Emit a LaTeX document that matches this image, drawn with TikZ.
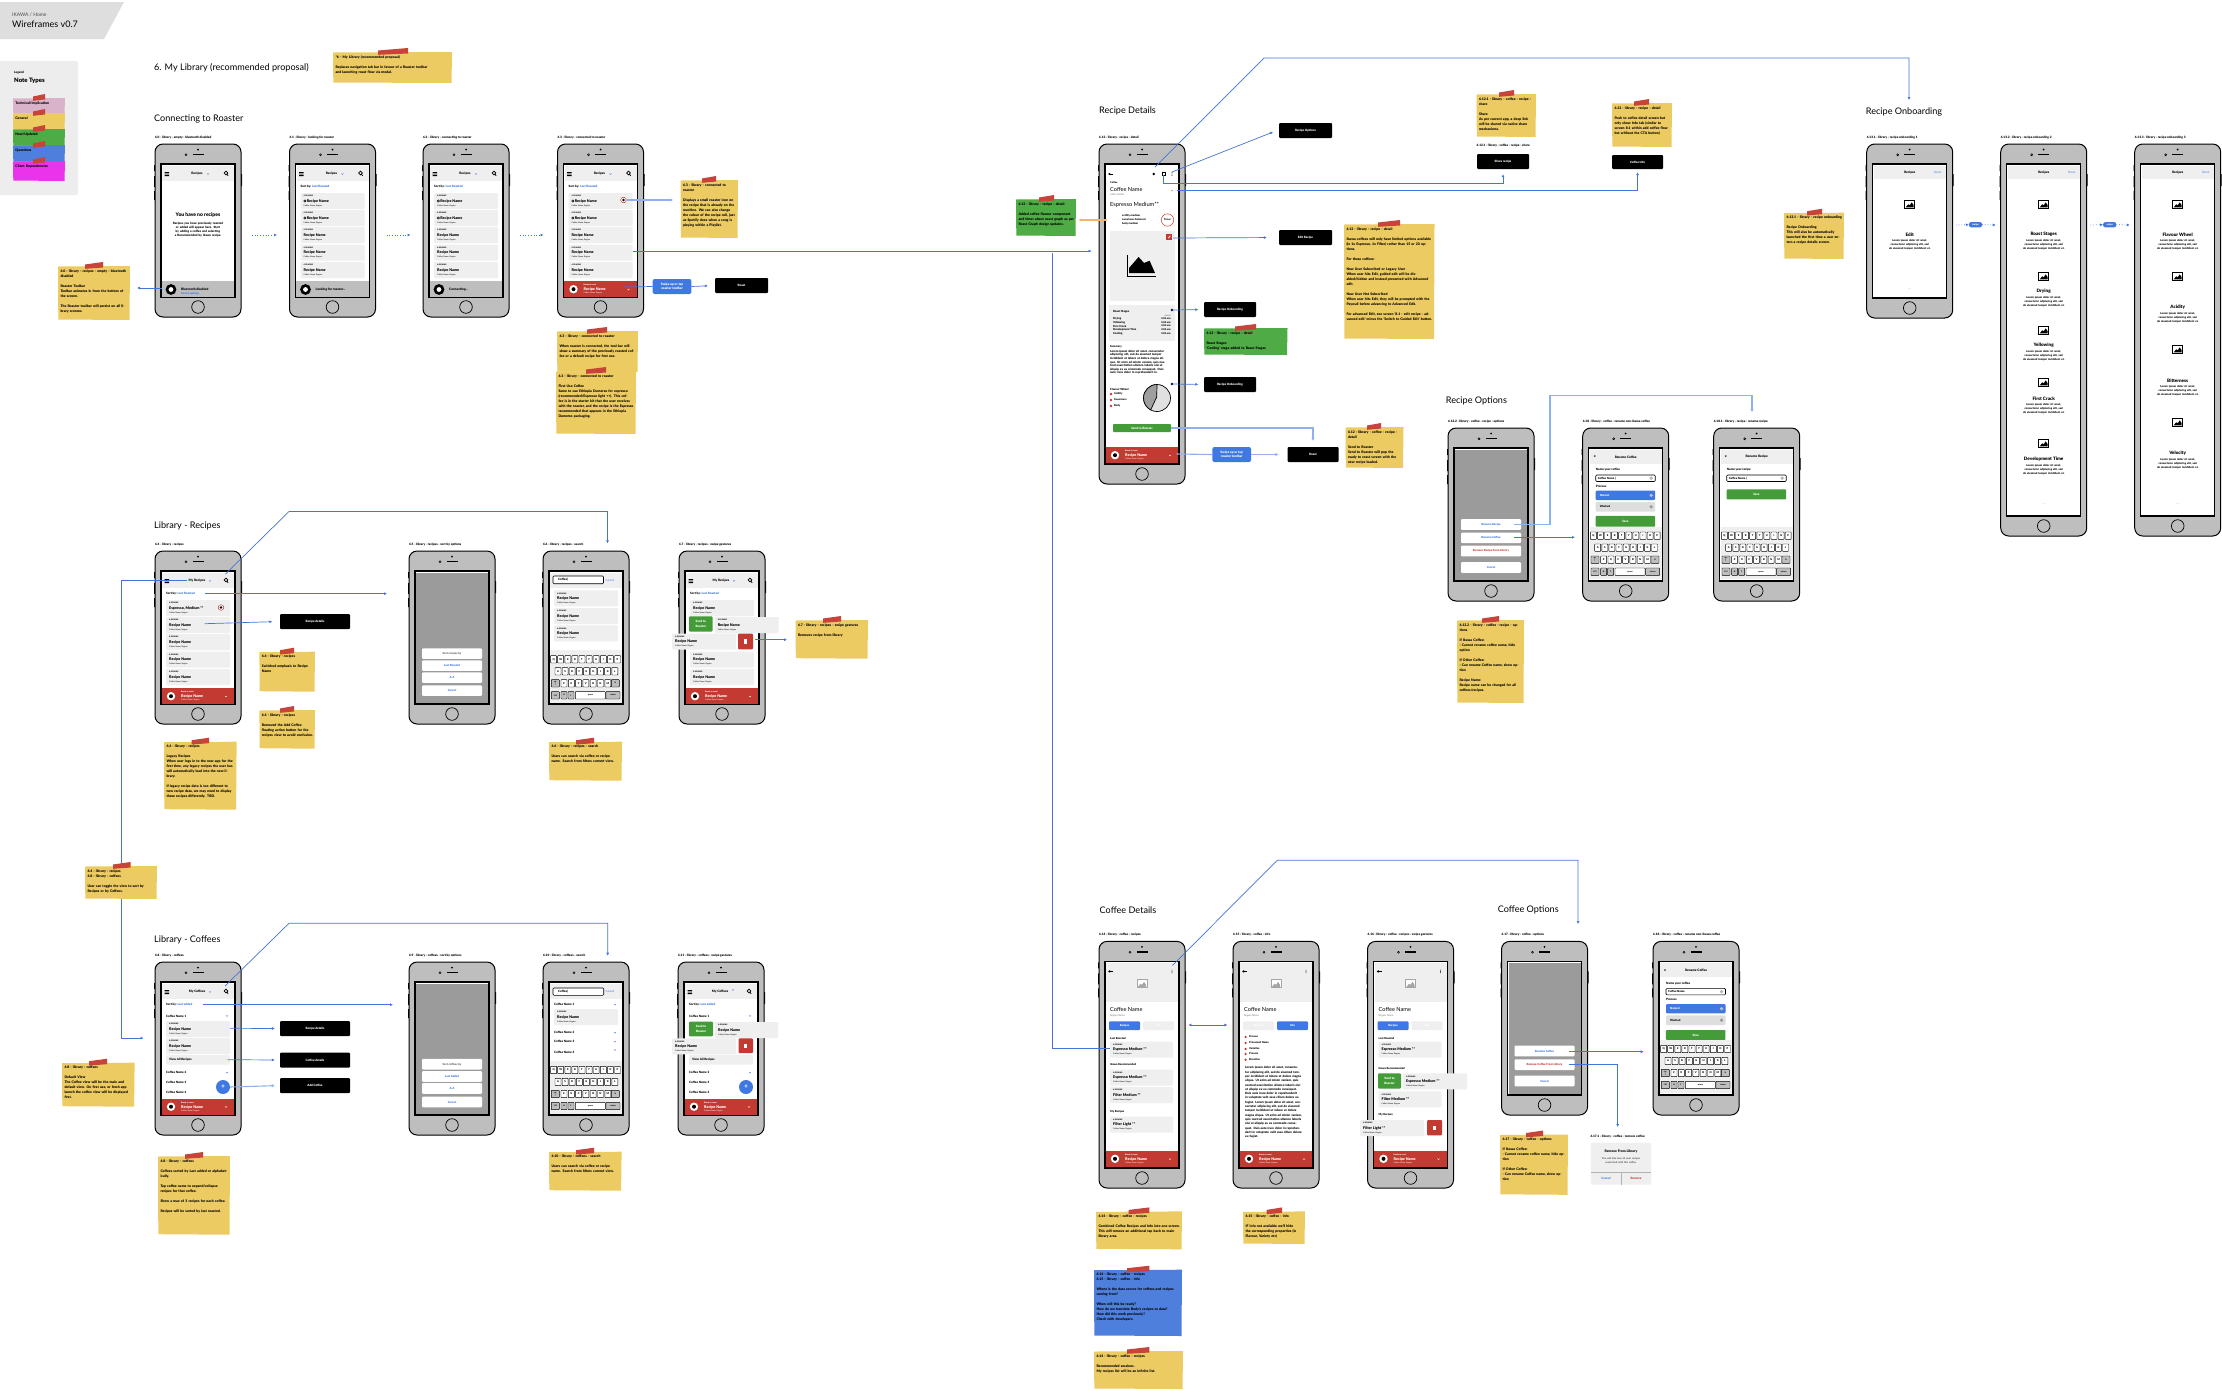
\documentclass[tikz,border=0pt]{standalone}
\usepackage{fontspec}
\setmainfont{Lato}[BoldFont={Lato Black}]
\usetikzlibrary{arrows.meta}
\definecolor{notey}{HTML}{EDCB63}
\definecolor{noteg}{HTML}{4FAB45}
\definecolor{noteb}{HTML}{4F7FDC}
\definecolor{notep}{HTML}{D9B3C9}
\definecolor{notem}{HTML}{EC33EC}
\definecolor{tapered}{HTML}{C8433A}
\definecolor{flowblue}{HTML}{4575D6}
\definecolor{flowpale}{HTML}{8FB0EC}
\definecolor{linkblue}{HTML}{3F78E0}
\definecolor{barred}{HTML}{C23A31}
\definecolor{btngreen}{HTML}{439C38}
\definecolor{cardbg}{HTML}{EFEFEF}
\definecolor{bodygray}{HTML}{BEBEBE}
\definecolor{sheetgray}{HTML}{9B9B9B}
\definecolor{flowor}{HTML}{F2B56B}

\newcounter{lblc}
\newcommand{\lbl}[3][]{\stepcounter{lblc}\node[lab,#1] (lbl\thelblc) at (#2) {#3};}
\newcommand{\chev}[3][linkblue]{\draw[#1,line width=.35] (#2-1,#3-.6) -- (#2,#3+.5) -- (#2+1,#3-.6);}

% phone shell: name, height, caption
\newcommand{\phonebody}[3]{%
  \fill[black] (-1,21) rectangle (0,27) (-1,32) rectangle (0,43) (-1,47) rectangle (0,56) (86,30) rectangle (87,42);
  \draw[phbody] (0,0) rectangle (86,#2);
  \fill[black] (37.5,9.7) rectangle (48.5,11.2);
  \fill[black] (43,5.5) circle (1);
  \draw[line width=.6,fill=white] (31,10.8) circle (1);
  \draw[phscreen] (6,20) rectangle (80,#2-20);
  \draw[line width=.7,fill=bodygray] (43,#2-10) circle (6.3);
  \coordinate (#1-w) at (0,91);
  \coordinate (#1-e) at (86,91);
  \lbl[capt]{0,-6.5}{#3}
}
\newcommand{\navbar}[1]{%
  \fill[cardbg] (7,22) rectangle (79,37);
  \fill[black] (9.5,28) rectangle (14,28.8) (9.5,29.6) rectangle (14,30.4) (9.5,31.2) rectangle (14,32);
  \lbl[bs=3.2,anchor=center]{42,30}{#1}
  \draw[line width=.7] (71,29) circle (1.8) (72.2,30.4) -- (73.2,32);
}
\newcommand{\sortrow}[2]{\lbl[bs=3]{11,#1}{Sort by: \textcolor{linkblue}{#2}}}
\newcommand{\rowcard}[4]{%
  \fill[cardbg,rounded corners=1] (#1,#2) rectangle ++(#3,16);
  \lbl[bs=1.9]{#1+3,#2+3}{4:30 MINS}
  \lbl[bs=3.7]{#1+3,#2+8}{#4}
  \lbl[fs=2]{#1+3,#2+12.6}{Coffee Name, Region}
}
\newcommand{\markrow}[1]{%
  \rowcard{11}{#1}{64}{\hspace{3.2pt}Recipe Name}
  \draw[line width=.45] (15.4,#1+8) circle (1.1);
}
\newcommand{\redbar}[1]{%
  \fill[barred] (6.6,#1) rectangle (79.4,#1+16.4);
  \fill[white] (16,#1+8.2) circle (4.2);
  \fill[black] (16,#1+8.2) circle (2);
  \lbl[bs=1.9,text=white]{26,#1+4.2}{Ready to roast}
  \lbl[bs=3.7,text=white]{26,#1+8.4}{Recipe Name}
  \lbl[fs=2,text=white]{26,#1+12.4}{Coffee Name, Region}
  \chev[white]{71}{#1+8.5}
}
\newcommand{\graybar}[2]{%
  \fill[bodygray] (6.6,137) rectangle (79.4,153);
  \fill[black] (16,145.5) circle (5.4);
  \fill[white] (16,145.5) circle (2.4);
  \lbl[bs=3.2]{26,145.5}{#1}
  #2
}
\newcommand{\keyboard}[1]{%
  \fill[cardbg] (7,#1) rectangle (79,#1+52.6);
  \foreach \kk [count=\i] in {Q,W,E,R,T,Y,U,I,O,P} {\lbl[keycap]{10.6+7.1*\i-7.1,#1+9}{\kk}}
  \foreach \kk [count=\i] in {A,S,D,F,G,H,J,K,L} {\lbl[keycap]{15+7.1*\i-7.1,#1+21}{\kk}}
  \foreach \kk [count=\i] in {Z,X,C,V,B,N,M} {\lbl[keycap]{21+7.3*\i-7.3,#1+33}{\kk}}
  \lbl[keycap,fill=bodygray,minimum width=8]{12.3,#1+33}{$\uparrow$}
  \lbl[keycap,fill=bodygray,minimum width=8]{72.3,#1+33}{x}
  \lbl[keycap,fill=bodygray,minimum width=8,bs=1.9]{12.3,#1+45}{123}
  \lbl[keycap,fill=bodygray]{21,#1+45}{o}
  \lbl[keycap,fill=bodygray]{28,#1+45}{i}
  \lbl[keycap,minimum width=30,bs=2]{47.3,#1+45}{space}
  \lbl[keycap,fill=bodygray,minimum width=14,bs=2]{70,#1+45}{return}
}
\newcommand{\sheetbg}[1]{\fill[sheetgray] (7,22) rectangle (79,#1-21);}
\newcommand{\sheetbtn}[4][linkblue]{\node[sheetbtn,text=#1] (#2) at (43,#3) {#4};}
\newcommand{\closeform}[1]{%
  \fill[cardbg] (7,22) rectangle (79,36);
  \lbl[bs=3.4,anchor=center]{12,29}{x}
  \lbl[bs=3.2,anchor=center]{43,29}{#1}
}
\newcommand{\inputbox}[3]{%
  \lbl[bs=3]{13,42}{#1}
  \draw[line width=.6,fill=white,rounded corners=1] (13,47) rectangle (72.5,53.5);
  \lbl[bs=2.8]{15,50.2}{#2}
  \fill[black!30] (68.5,50.2) circle (1.8);
  #3
}
\newcommand{\processrows}{%
  \lbl[bs=3]{13,58}{Process}
  \fill[linkblue,rounded corners=1] (13,62.7) rectangle (72.5,72);
  \lbl[bs=2.8,text=white]{17,67.3}{Natural}
  \fill[black!25] (68.5,67.3) circle (1.8);
  \fill[black!13,rounded corners=1] (13,74) rectangle (72.5,83.7);
  \lbl[bs=2.8]{17,78.8}{Washed}
  \fill[black!40] (68.5,78.8) circle (1.8);
}
\newcommand{\imgicon}[3]{%
  \draw[#3,line width=.7,fill=white] (#1-5,#2-4) rectangle (#1+5,#2+4);
  \fill[#3] (#1-4,#2+3) -- (#1-1.5,#2) -- (#1,#2+1) -- (#1+2,#2-2) -- (#1+4,#2+1) -- (#1+4,#2+3) -- cycle;
}
\newcommand{\onbnav}{%
  \fill[cardbg] (7,21.5) rectangle (79,35.3);
  \lbl[bs=3.2,anchor=center]{43,28.7}{Recipes}
  \lbl[fs=3,text=linkblue,anchor=center]{71,28.7}{Done}
}
\newcommand{\onbstep}[4]{%
  \imgicon{#1}{#2}{black}
  \lbl[bs=4.6,anchor=center]{#1,#3}{#4}
  \lbl[anchor=north,align=center,text width=64,font=\fontsize{2.7}{4}\selectfont\bfseries]{#1,#3+5}{Lorem ipsum dolor sit amet,\\consectetur adipiscing elit, sed\\do eiusmod tempor incididunt ut.}
}
\newcommand{\coffeehead}[2]{%
  \fill[cardbg] (7,22) rectangle (79.4,60.6);
  \draw[line width=.8,-{Latex[length=2.2pt,width=3pt]}] (14,30) -- (9,30);
  \fill[black] (73,28.6) circle (.45) (73,30) circle (.45) (73,31.4) circle (.45);
  \imgicon{43}{42.4}{black!35}
  \lbl[fs=5.6]{11,68}{Coffee Name}
  \lbl[fs=2.5,text=black!55]{11,74.6}{Region Name}
  \fill[#1,rounded corners=1] (10,80) rectangle (41,88.6);
  \lbl[bs=2.7,anchor=center,text=\ifx#1cardbg black\else white\fi]{25.5,84.3}{Recipes}
  \fill[#2,rounded corners=1] (44,80) rectangle (75,88.6);
  \lbl[bs=2.7,anchor=center,text=\ifx#2cardbg black\else white\fi]{59.5,84.3}{Info}
}
\newcommand{\trashbtn}[4]{%
  \fill[barred,rounded corners=1] (#1,#2) rectangle (#3,#4);
  \fill[white] (#1/2+#3/2-1.5,#2/2+#4/2-2) rectangle (#1/2+#3/2+1.5,#2/2+#4/2+2.4);
}
\newcommand{\stickynote}[9][notey]{%
  \fill[#1] (#3,#4+.5) -- (#5,#4) -- (#5-.5,#6) -- (#3+.3,#6-.5) -- cycle;
  \fill[tapered] (#7,#4-1.5) -- (#8,#4-4) -- (#8,#4+1.5) -- (#7,#4+2.8) -- cycle;
  \pgfmathsetmacro\notew{#5-#3-4.5}
  \node[notetxt,text width=\notew pt] (#2) at (#3+2.3,#4+3.4) {#9};
}
\def\loremtxt{Lorem ipsum dolor sit amet, consectetur adipiscing elit, sed do eiusmod tempor incididunt ut labore et dolore magna aliqua. Ut enim ad minim veniam, quis nostrud exercitation ullamco laboris nisi ut aliquip ex ea commodo consequat. Duis aute irure dolor in reprehenderit in voluptate velit esse cillum dolore eu fugiat.}

\begin{document}
\begin{tikzpicture}[x=1pt,y=-1pt,
   fs/.style={font=\fontsize{#1}{#1}\selectfont},
   bs/.style={font=\fontsize{#1}{#1}\selectfont\bfseries},
   lab/.style={anchor=west,inner sep=0pt,bs=3},
   capt/.style={bs=3.1},
   ttl/.style={anchor=west,inner sep=0pt,fs=9.1},
   phbody/.style={draw=black,line width=1,fill=bodygray,rounded corners=8},
   phscreen/.style={draw=black,line width=1.5,fill=white},
   keycap/.style={anchor=center,draw=black,fill=white,line width=.45,rounded corners=.6,minimum width=6,minimum height=7.4,bs=2.6},
   sheetbtn/.style={fill=white,rounded corners=1,minimum width=60,minimum height=10.6,inner sep=0pt,bs=2.8},
   blackbtn/.style={fill=black,text=white,rounded corners=1,minimum width=53,minimum height=15,inner sep=0pt,bs=3},
   pillbtn/.style={fill=linkblue,text=white,rounded corners=2,minimum width=38.6,minimum height=15,inner sep=0pt,align=center,font=\fontsize{3.2}{4.4}\selectfont\bfseries},
   greenbtn/.style={fill=btngreen,text=white,rounded corners=.8,inner sep=0pt,bs=3},
   notetxt/.style={anchor=north west,inner sep=0pt,align=left,font=\fontsize{3.45}{5}\selectfont\bfseries},
   flow/.style={draw=flowblue,line width=.7,-{Latex[length=3pt,width=3pt]}},
   flowthick/.style={draw=flowpale,line width=1.1,-{Latex[length=3pt,width=3.4pt]}},
   flowdot/.style={flow,dotted}]
  \useasboundingbox (0,0) rectangle (2222,1390);
  \fill[white] (0,0) rectangle (2222,1390);

  % ---- header and legend ----
  \fill[black!13] (0,2) -- (124,2) -- (104,39) -- (0,39) -- cycle;
  \lbl[fs=5,text=black!70]{12,15}{IKAWA / Home}
  \lbl[fs=9]{12,24}{Wireframes v0.7}
  \fill[black!7,rounded corners=2] (-3,61) rectangle (78,195);
  \lbl[bs=3]{14,73}{Legend}
  \lbl[bs=6]{14,80.5}{Note Types}
  \stickynote[notep]{lgA}{13}{98}{65}{114}{33}{45}{Technical/Implication}
  \stickynote[notey]{lgB}{13}{113}{65}{130}{33}{45}{General}
  \stickynote[noteg]{lgC}{13}{129}{65}{146}{33}{45}{New/Updated}
  \stickynote[noteb]{lgD}{13}{145}{65}{162}{33}{45}{Questions}
  \stickynote[notem]{lgE}{13}{161}{65}{181}{33}{45}{Client Dependencies}

  \node[ttl] (ttlA) at (154,68) {6. My Library (recommended proposal)};
  \node[ttl] (ttlB) at (154,119) {Connecting to Roaster};
  \node[ttl] (ttlC) at (154,525.7) {Library - Recipes};
  \node[ttl] (ttlD) at (154,940) {Library - Coffees};
  \node[ttl] (ttlE) at (1099,111) {Recipe Details};
  \node[ttl] (ttlF) at (1445.7,400.7) {Recipe Options};
  \node[ttl] (ttlG) at (1865.7,111.7) {Recipe Onboarding};
  \node[ttl] (ttlH) at (1099.5,909.7) {Coffee Details};
  \node[ttl] (ttlI) at (1497.6,909.7) {Coffee Options};

  % ---- connecting to roaster ----
  \begin{scope}[shift={(155,144)}]
    \phonebody{p60}{173}{6.0 - library - empty - bluetooth disabled}
    \navbar{Recipes}
    \chev{53}{30}
    \lbl[bs=5,anchor=center]{43,71}{You have no recipes}
    \lbl[anchor=north,align=center,text width=58,font=\fontsize{3}{3.9}\selectfont\bfseries]{43,78}{Recipes you have previously roasted or added will appear here. Start by adding a coffee and selecting a Recommended by Ikawa recipe.}
    \graybar{Bluetooth disabled}{\lbl[bs=2.6,text=linkblue]{26,149.5}{Device settings}}
    \coordinate (p60-bar) at (7,144);
  \end{scope}
  \begin{scope}[shift={(289.5,144)}]
    \phonebody{p61}{173}{6.1 - library - looking for roaster}
    \navbar{Recipes}
    \chev{53}{30}
    \sortrow{43}{Last Roasted}
    \markrow{49}
    \markrow{66}
    \foreach \ry in {83,100.5,118} {\rowcard{11}{\ry}{64}{Recipe Name}}
    \graybar{Looking for roaster...}{}
  \end{scope}
  \begin{scope}[shift={(423,144)}]
    \phonebody{p62}{173}{6.2 - library - connecting to roaster}
    \navbar{Recipes}
    \chev{53}{30}
    \sortrow{43}{Last Roasted}
    \markrow{49}
    \markrow{66}
    \foreach \ry in {83,100.5,118} {\rowcard{11}{\ry}{64}{Recipe Name}}
    \graybar{Connecting...}{}
  \end{scope}
  \begin{scope}[shift={(557.5,144)}]
    \phonebody{p63}{173}{6.3 - library - connected to roaster}
    \navbar{Recipes}
    \chev{53}{30}
    \sortrow{43}{Last Roasted}
    \markrow{49}
    \markrow{66}
    \foreach \ry in {83,100.5,118} {\rowcard{11}{\ry}{64}{Recipe Name}}
    \redbar{137}
    \draw[barred,line width=.5,fill=white] (66,56) circle (2.8);
    \fill[black] (66,56) circle (1.4);
    \coordinate (p63-icon) at (69,56);
    \coordinate (p63-row) at (75,107);
    \coordinate (p63-bar) at (66,143);
  \end{scope}
  \node[pillbtn] (p63-pill) at (672,286.5) {Swipe up or tap\\roaster toolbar};
  \node[blackbtn] (p63-roast) at (741.5,285.5) {Roast};

  % ---- recipe details ----
  \begin{scope}[shift={(1099,144)}]
    \phonebody{pd}{340}{6.12 - library - recipe - detail}
    \draw[line width=.8,-{Latex[length=2.2pt,width=3pt]}] (14,30) -- (9,30);
    \fill[black] (54.7,30) circle (1.4);
    \draw[line width=.6] (63.2,28.2) rectangle (66.4,31.6);
    \fill[black] (73,28.6) circle (.45) (73,30) circle (.45) (73,31.4) circle (.45);
    \lbl[bs=2.4]{11,39}{Coffee}
    \lbl[fs=5.6]{11,45}{Coffee Name}
    \lbl[fs=2.4,text=black!55]{11,51}{coffee details}
    \chev[black!50]{73}{46.7}
    \lbl[fs=5.7]{11,61}{Espresso Medium**}
    \lbl[bs=2.6]{23,72}{acidity medium}
    \lbl[bs=2.6]{23,76}{sweetness balanced}
    \lbl[bs=2.6]{23,80}{body medium}
    \draw[barred,line width=.5,fill=white] (68.5,76) circle (6.2);
    \lbl[bs=2.5,anchor=center]{68.5,76}{Timer}
    \fill[cardbg] (11,87) rectangle (76,157);
    \draw[line width=1] (28.5,111) -- (28.5,132) -- (57,132);
    \fill[black] (30,129) -- (30,124) -- (39.6,113) -- (45,119) -- (50.6,116.7) -- (56,129) -- cycle;
    \fill[barred] (67,90) rectangle (73,96);
    \fill[white] (69,94) -- (71,91.5) -- (71.5,92) -- (69.5,94.5) -- cycle;
    \fill[cardbg] (10,161) rectangle (76,197);
    \lbl[bs=2.8]{14,168}{Roast Stages}
    \fill[black] (73,166) circle (1.3);
    \lbl[fs=2.2,anchor=east,text=black!60]{72,171.5}{details}
    \foreach \ty/\tn in {175/Drying,178.5/Yellowing,182/First Crack,186/Development Time,190/Cooling} {\lbl[bs=2.7]{14,\ty}{\tn}
      \lbl[bs=2.4,anchor=east]{72,\ty}{0:00 min}}
    \lbl[bs=2.7]{11,203}{Summary}
    \lbl[anchor=north west,align=left,text width=57,font=\fontsize{2.9}{3.6}\selectfont\bfseries]{11,206}{Lorem ipsum dolor sit amet, consectetur adipiscing elit, sed do eiusmod tempor incididunt ut labore et dolore magna aliqua. Ut enim ad minim veniam, quis nostrud exercitation ullamco laboris nisi ut aliquip ex ea commodo consequat. Duis aute irure dolor in reprehenderit in.}
    \lbl[bs=2.8]{11,245}{Flavour Wheel}
    \foreach \ty/\tn in {250/Acidity,256/Sweetness,262/Body} {\fill[barred] (12,\ty) circle (1.3);
      \lbl[bs=2.6]{15,\ty}{\tn}}
    \draw[line width=.7,fill=black!12] (58,254) circle (13.5);
    \draw[line width=.7,fill=black!38] (57.7,253) -- (58,240.5) arc[start angle=270,end angle=118,radius=13.5] -- cycle;
    \node[greenbtn,minimum width=58,minimum height=8] (pd-send) at (43,284) {Send to Roaster};
    \redbar{303}
    \coordinate (pd-search) at (56,23);
    \coordinate (pd-opts) at (73,28);
    \coordinate (pd-share) at (64.5,31);
    \coordinate (pd-chev) at (77.5,46.7);
    \coordinate (pd-edit) at (74,94);
    \coordinate (pd-st) at (73,166);
    \coordinate (pd-fl) at (73,240);
    \fill[black] (73,240) circle (1.3);
    \coordinate (pd-bar) at (77.5,310);
    \coordinate (pd-flav) at (8,76);
    \coordinate (pd-in) at (-7.4,107);
  \end{scope}
  \node[blackbtn] (bOpts) at (1305.5,130.5) {Recipe Options};
  \node[blackbtn] (bEdit) at (1305.5,237.5) {Edit Recipe};
  \node[blackbtn,minimum width=52] (bOnbA) at (1230,309.5) {Recipe Onboarding};
  \node[blackbtn,minimum width=52] (bOnbB) at (1230,384.5) {Recipe Onboarding};
  \node[blackbtn,minimum width=51] (bRoast) at (1313,454.5) {Roast};
  \node[blackbtn,minimum width=52] (bShare) at (1503,161.5) {Share recipe};
  \node[blackbtn,minimum width=51,minimum height=14] (bInfo) at (1637.5,162) {Coffee Info};
  \node[pillbtn] (pd-pill) at (1231.7,454.5) {Swipe up or tap\\roaster toolbar};
  \lbl[capt]{1476.5,146}{6.12.1 - library - coffee - recipe - share}

  % ---- recipe options ----
  \begin{scope}[shift={(1448,428)}]
    \phonebody{po}{173}{6.12.2 - library - coffee - recipe - options}
    \sheetbg{173}
    \sheetbtn{po-rec}{96.5}{Rename Recipe}
    \sheetbtn{po-cof}{109.9}{Rename Coffee}
    \sheetbtn[barred]{po-rem}{123}{Remove Recipe From Library}
    \sheetbtn{po-can}{139.5}{Cancel}
    \coordinate (po-a) at (66,96.3);
    \coordinate (po-b) at (66,109.3);
  \end{scope}
  \begin{scope}[shift={(1582.7,428)}]
    \phonebody{pr}{173}{6.18 - library - coffee - rename non-ikawa coffee}
    \closeform{Rename Coffee}
    \inputbox{Name your coffee}{Coffee Name |}{}
    \processrows
    \node[greenbtn,minimum width=59.5,minimum height=10.7] (pr-save) at (42.7,93.3) {Save};
    \keyboard{98.7}
    \coordinate (pr-in) at (-7.7,109.3);
  \end{scope}
  \begin{scope}[shift={(1713.7,428)}]
    \phonebody{prr}{173}{6.18.1 - library - recipe - rename recipe}
    \closeform{Rename Recipe}
    \inputbox{Name your recipe}{Coffee Name |}{}
    \node[greenbtn,minimum width=59.5,minimum height=10] (prr-save) at (42.7,66.3) {Save};
    \keyboard{98.7}
    \coordinate (prr-in) at (38.3,-16);
  \end{scope}

  % ---- recipe onboarding ----
  \begin{scope}[shift={(1866.7,144)}]
    \phonebody{ob1}{174}{6.13.1 - library - recipe onboarding 1}
    \onbnav
    \onbstep{43}{60.3}{90.3}{Edit}
    \lbl[bs=2.4,anchor=center,text=linkblue]{43,145}{. . .}
    \coordinate (ob1-s) at (89.3,81);
  \end{scope}
  \begin{scope}[shift={(2000.7,144)}]
    \phonebody{ob2}{392}{6.13.2 - library - recipe onboarding 2}
    \onbnav
    \foreach \iy/\ty/\tn in {60.3/90.3/Roast Stages,132.3/147.3/Drying,186.3/201.3/Yellowing,238.3/254.3/First Crack,299.3/315.3/Development Time} {\onbstep{43}{\iy}{\ty}{\tn}}
    \lbl[bs=2.4,anchor=center,text=linkblue]{43,360}{. . .}
    \coordinate (ob2-w) at (-5,81);
    \coordinate (ob2-s) at (90,81);
  \end{scope}
  \begin{scope}[shift={(2134.7,144)}]
    \phonebody{ob3}{392}{6.13.3 - library - recipe onboarding 3}
    \onbnav
    \foreach \iy/\ty/\tn in {60.3/90.3/Flavour Wheel,132.3/163.3/Acidity,205.3/236.3/Bitterness,278.3/309.3/Velocity} {\onbstep{43}{\iy}{\ty}{\tn}}
    \lbl[bs=2.4,anchor=center,text=linkblue]{43,360}{. . .}
    \coordinate (ob3-w) at (-5,81);
  \end{scope}
  \node[pillbtn,minimum width=13,minimum height=5.2,font=\fontsize{2.4}{2.4}\selectfont\bfseries] (ob-pillA) at (1975.5,224.7) {swipe};
  \node[pillbtn,minimum width=13,minimum height=5.2,font=\fontsize{2.4}{2.4}\selectfont\bfseries] (ob-pillB) at (2109.7,224.7) {swipe};

  % ---- library recipes ----
  \begin{scope}[shift={(155,551)}]
    \phonebody{p64}{173}{6.4 - library - recipes}
    \navbar{My Recipes}
    \chev{55}{30}
    \sortrow{43}{Last Roasted}
    \rowcard{11}{49}{64}{Espresso, Medium **}
    \foreach \ry in {66,83,100.5,118} {\rowcard{11}{\ry}{64}{Recipe Name}}
    \redbar{137}
    \draw[barred,line width=.5,fill=white] (66,56.5) circle (2.8);
    \fill[black] (66,56.5) circle (1.4);
    \coordinate (p64-search) at (70.5,23);
    \coordinate (p64-menu) at (32,29);
    \coordinate (p64-sort) at (49.6,42.7);
    \coordinate (p64-row) at (49.6,72.7);
  \end{scope}
  \begin{scope}[shift={(409,551)}]
    \phonebody{p65}{173}{6.5 - library - recipes - sort by options}
    \sheetbg{173}
    \sheetbtn[black!60]{p65-a}{102.6}{Sort recipes by}
    \sheetbtn{p65-b}{114.6}{Last Roasted}
    \sheetbtn{p65-c}{126.6}{A-Z}
    \sheetbtn{p65-d}{139.6}{Cancel}
    \coordinate (p65-in) at (-22,42.7);
  \end{scope}
  \begin{scope}[shift={(543,551)}]
    \phonebody{p66}{173}{6.6 - library - recipes - search}
    \fill[cardbg] (7,22) rectangle (79,37);
    \draw[line width=.6,fill=white,rounded corners=1] (10,25) rectangle (60.5,32.7);
    \lbl[bs=3]{15,29}{Coffee|}
    \lbl[fs=2.9,text=linkblue]{62.5,29}{Cancel}
    \foreach \ry in {39.3,57,74.3} {\rowcard{11}{\ry}{64}{Recipe Name}}
    \keyboard{99.3}
    \coordinate (p66-top) at (64.5,-7.7);
  \end{scope}
  \begin{scope}[shift={(679,551)}]
    \phonebody{p67}{173}{6.7 - library - recipes - swipe gestures}
    \navbar{My Recipes}
    \chev{55}{30}
    \sortrow{43}{Last Roasted}
    \rowcard{11}{49}{64}{Recipe Name}
    \rowcard{35.6}{66}{64}{Recipe Name}
    \fill[btngreen,rounded corners=1] (10,65.3) rectangle (33.6,80.6);
    \lbl[anchor=center,align=center,text=white,font=\fontsize{3}{4.4}\selectfont\bfseries]{21.8,73}{Send to\\Roaster}
    \rowcard{-7}{82.6}{64}{Recipe Name}
    \trashbtn{59}{82.6}{74}{98.3}
    \rowcard{11}{100.5}{64}{Recipe Name}
    \rowcard{11}{118}{64}{Recipe Name}
    \redbar{137}
    \coordinate (p67-trash) at (76,88.7);
  \end{scope}
  \node[blackbtn,minimum width=70] (bRecDet) at (315,621.5) {Recipe details};

  % ---- library coffees ----
  \begin{scope}[shift={(155,962)}]
    \phonebody{p68}{173}{6.8 - library - coffees}
    \navbar{My Coffees}
    \chev{55}{30}
    \sortrow{42.7}{Last added}
    \lbl[bs=3]{11,54}{Coffee Name 1}
    \chev{72}{54}
    \rowcard{11}{59}{64}{Recipe Name}
    \rowcard{11}{76}{64}{Recipe Name}
    \fill[cardbg,rounded corners=1] (11,93) rectangle (75,102.7);
    \lbl[bs=3]{14,97.8}{View All Recipes}
    \lbl[bs=3]{11,110.7}{Coffee Name 2}
    \chev{72}{110.7}
    \lbl[bs=3]{11,120.7}{Coffee Name 3}
    \lbl[bs=3]{11,130.7}{Coffee Name 4}
    \fill[linkblue] (68,125) circle (7);
    \lbl[bs=6,text=white,anchor=center]{68,124.6}{+}
    \redbar{136.5}
    \coordinate (p68-search) at (70,24);
    \coordinate (p68-sort) at (48,42.7);
    \coordinate (p68-recipe) at (75,66.3);
    \coordinate (p68-all) at (72.6,97.7);
    \coordinate (p68-add) at (75,125);
    \coordinate (p68-in) at (-11.5,76);
  \end{scope}
  \begin{scope}[shift={(409,962)}]
    \phonebody{p69}{173}{6.9 - library - coffees - sort by options}
    \sheetbg{173}
    \sheetbtn[black!60]{p69-a}{102.2}{Sort coffees by}
    \sheetbtn{p69-b}{114.5}{Last Added}
    \sheetbtn{p69-c}{126.5}{A-Z}
    \sheetbtn{p69-d}{140}{Cancel}
    \coordinate (p69-in) at (-16,42.7);
  \end{scope}
  \begin{scope}[shift={(543,962)}]
    \phonebody{p610}{173}{6.10 - library - coffees - search}
    \fill[cardbg] (7,22) rectangle (79,37);
    \draw[line width=.6,fill=white,rounded corners=1] (10,26) rectangle (60.7,33.3);
    \lbl[bs=3]{15,29.7}{Coffee|}
    \lbl[fs=2.9,text=linkblue]{62.5,29.7}{Cancel}
    \lbl[bs=3]{11,42.7}{Coffee Name 1}
    \chev{72}{42.7}
    \rowcard{11}{47}{64}{Recipe Name}
    \lbl[bs=3]{11,70.7}{Coffee Name 2}
    \chev{72}{70.7}
    \lbl[bs=3]{11,79.7}{Coffee Name 3}
    \chev{72}{79.7}
    \lbl[bs=3]{11,90.3}{Coffee Name 4}
    \chev{72}{88}
    \keyboard{99}
    \coordinate (p610-top) at (64.7,-6.3);
  \end{scope}
  \begin{scope}[shift={(678,962)}]
    \phonebody{p611}{173}{6.11 - library - coffees - swipe gestures}
    \navbar{My Coffees}
    \chev{55}{28}
    \sortrow{42.7}{Last added}
    \lbl[bs=3]{11,54}{Coffee Name 1}
    \chev{72}{54}
    \rowcard{37}{60}{63}{Recipe Name}
    \fill[btngreen,rounded corners=1] (11,59.7) rectangle (35,74.3);
    \lbl[anchor=center,align=center,text=white,font=\fontsize{3}{4.4}\selectfont\bfseries]{23,67}{Send to\\Roaster}
    \rowcard{-6}{76.3}{64}{Recipe Name}
    \trashbtn{60.5}{76.3}{75}{91}
    \fill[cardbg,rounded corners=1] (11,93) rectangle (75,102.7);
    \lbl[bs=3]{14,97.8}{View All Recipes}
    \lbl[bs=3]{11,110.7}{Coffee Name 2}
    \chev{72}{110.7}
    \lbl[bs=3]{11,120.7}{Coffee Name 3}
    \lbl[bs=3]{11,130.7}{Coffee Name 4}
    \fill[linkblue] (68,125) circle (7);
    \lbl[bs=6,text=white,anchor=center]{68,124.6}{+}
    \redbar{136.5}
  \end{scope}
  \node[blackbtn,minimum width=70] (bCofRec) at (315,1028.5) {Recipe details};
  \node[blackbtn,minimum width=70] (bCofDet) at (315,1060) {Coffee details};
  \node[blackbtn,minimum width=70] (bCofAdd) at (315,1085.5) {Add Coffee};

  % ---- coffee details ----
  \begin{scope}[shift={(1099,941.4)}]
    \phonebody{pc}{246.6}{6.14 - library - coffee - recipes}
    \coffeehead{linkblue}{cardbg}
    \lbl[bs=2.7]{11,96.6}{Last Roasted}
    \rowcard{11}{100.3}{63}{Espresso Medium **}
    \lbl[bs=2.7]{11,123}{Ikawa Recommended}
    \rowcard{11}{128.3}{63}{Espresso Medium **}
    \rowcard{11}{145.6}{63}{Filter Medium **}
    \lbl[bs=2.7]{11,170}{My Recipes}
    \rowcard{11}{175.2}{63}{Filter Light **}
    \redbar{209.2}
    \coordinate (pc-dots) at (73.4,24);
    \coordinate (pc-card) at (11,106.9);
    \coordinate (pc-e) at (89.4,83.6);
  \end{scope}
  \begin{scope}[shift={(1233,941.4)}]
    \phonebody{pi}{246.6}{6.15 - library - coffee - info}
    \coffeehead{cardbg}{linkblue}
    \foreach \ty/\tn in {95.6/Flavour,101.6/Processed Name,107.6/Varieties,112.6/Process,118.3/Elevation} {\fill[barred] (12.6,\ty) circle (1.3);
      \lbl[bs=2.6]{16,\ty}{\tn}}
    \lbl[anchor=north west,align=left,text width=57,font=\fontsize{3}{4.3}\selectfont\bfseries]{12,125}{\loremtxt{} \loremtxt}
    \redbar{209.2}
    \coordinate (pi-w) at (-5.6,83.6);
  \end{scope}
  \begin{scope}[shift={(1367.5,941.4)}]
    \phonebody{ps}{246.6}{6.16 - library - coffee - recipes - swipe gestures}
    \coffeehead{linkblue}{cardbg}
    \lbl[bs=2.7]{11,96.6}{Last Roasted}
    \rowcard{11}{100.3}{63}{Espresso Medium **}
    \lbl[bs=2.7]{11,126.6}{Ikawa Recommended}
    \rowcard{35.5}{132}{64}{Espresso Medium **}
    \fill[btngreen,rounded corners=1] (10.5,132) rectangle (33.5,147.2);
    \lbl[anchor=center,align=center,text=white,font=\fontsize{3}{4.4}\selectfont\bfseries]{22,139.6}{Send to\\Roaster}
    \rowcard{11}{150}{63}{Filter Medium **}
    \lbl[bs=2.7]{11,173.6}{My Recipes}
    \rowcard{-7.5}{178.6}{64}{Filter Light **}
    \trashbtn{59.5}{178.6}{74.5}{194}
    \redbar{209.2}
  \end{scope}
  \begin{scope}[shift={(1501.5,941.4)}]
    \phonebody{copt}{173.6}{6.17 - library - coffee - options}
    \sheetbg{173.6}
    \sheetbtn{co-ren}{109.6}{Rename Coffee}
    \sheetbtn[barred]{co-rem}{123.3}{Remove Coffee From Library}
    \sheetbtn{co-can}{139.6}{Cancel}
    \coordinate (co-a) at (67.2,110.3);
    \coordinate (co-b) at (67.2,123.1);
    \coordinate (co-top) at (76.5,-17.4);
  \end{scope}
  \begin{scope}[shift={(1653,941.4)}]
    \phonebody{cr}{173.6}{6.18 - library - coffee - rename non-ikawa coffee}
    \closeform{Rename Coffee}
    \inputbox{Name your coffee}{Coffee Name}{}
    \processrows
    \node[greenbtn,minimum width=59.5,minimum height=10] (cr-save) at (42.7,93.6) {Save};
    \keyboard{98.6}
    \coordinate (cr-in) at (-9.3,110.3);
  \end{scope}
  % ---- remove dialog ----
  \lbl[capt]{1590.4,1137}{6.17.1 - library - coffee - remove coffee}
  \fill[cardbg,rounded corners=1] (1590.8,1142.8) rectangle (1651,1184.5);
  \lbl[bs=3.4,anchor=center]{1621,1151.7}{Remove From Library}
  \lbl[anchor=north,align=center,text width=56,text=black!60,font=\fontsize{2.5}{4}\selectfont\bfseries]{1621,1157}{You will also lose all your recipes\\associated with this coffee.}
  \draw[black!30,line width=.4] (1590.8,1172.4) -- (1651,1172.4) (1620.8,1172.4) -- (1620.8,1184.5);
  \lbl[bs=3,anchor=center,text=linkblue]{1606,1178}{Cancel}
  \lbl[bs=3,anchor=center,text=barred]{1636,1178}{Remove}

  % ---- connectors ----
  \coordinate (fn60) at (137,288);
  \coordinate (fn63) at (673,200);
  \coordinate (knA) at (1264,58);
  \coordinate (fnA) at (1909,100);
  \coordinate (fnOpts) at (1273,132);
  \coordinate (fnFlav) at (1078.6,220);
  \coordinate (knB) at (1052,253);
  \coordinate (knC) at (1550,395.7);
  \coordinate (knD) at (289,511.5);
  \coordinate (knE) at (121,580);
  \coordinate (knF) at (121,1038);
  \coordinate (fn67) at (787,639.7);
  \coordinate (knG) at (289,923.3);
  \coordinate (knH) at (1277.3,860.3);
  \coordinate (fnDlg) at (1617.7,1127);
  \draw[flow,line width=.9] (p60-bar) -- (fn60);
  \draw[flowdot,shorten <=11pt,shorten >=12.5pt] (p60-e) -- (p61-w);
  \draw[flowdot,shorten <=11pt,shorten >=12.5pt] (p61-e) -- (p62-w);
  \draw[flowdot,shorten <=11pt,shorten >=14pt] (p62-e) -- (p63-w);
  \draw[flowthick] (p63-icon) -- (fn63);
  \draw[flow] (p63-row) -- (pd-in);
  \draw[flow,-] (p63-bar) -- (p63-pill.west);
  \draw[flow,shorten >=7pt] (p63-pill.east) -- (p63-roast.west);
  \draw[flow] (pd-search) -- (knA) -| (fnA);
  \draw[flow] (pd-opts) -- (fnOpts);
  \draw[flow,shorten >=5pt] (pd-share) -- ++(0,8) -| (bShare.south);
  \draw[flow,shorten >=3pt] (pd-chev) -| (bInfo.south);
  \draw[flow,shorten >=12pt] (pd-edit) -- (bEdit.west);
  \draw[flow,shorten >=5.5pt] (pd-st) -- (bOnbA.west);
  \draw[flow,shorten >=5.5pt] (pd-fl) -- (bOnbB.west);
  \draw[flowthick,shorten >=6pt] (pd-send.east) -| (bRoast.north);
  \draw[flowthick,-] (pd-bar) -- (pd-pill.west);
  \draw[flowthick,shorten >=9pt] (pd-pill.east) -- (bRoast.west);
  \draw[flowthick,draw=flowor] (pd-flav) -- (fnFlav);
  \draw[flow,-] (knB) |- (pc-card);
  \draw[flowthick] (po-a) -| (knC) -| (prr-in);
  \draw[flow] (po-b) -- (pr-in);
  \draw[flowdot] (ob1-s) -- (ob-pillA.west);
  \draw[flowdot] (ob-pillA.east) -- (ob2-w);
  \draw[flowdot] (ob2-s) -- (ob-pillB.west);
  \draw[flowdot] (ob-pillB.east) -- (ob3-w);
  \draw[flow] (p64-search) -- (knD) -| (p66-top);
  \draw[flow,draw=flowblue] (p64-menu) -- (knE) -- (knF) -- (p68-in);
  \draw[flow] (p64-sort) -- (p65-in);
  \draw[flow,shorten >=7.5pt] (p64-row) -- (bRecDet.west);
  \draw[flow] (p67-trash) -- (fn67);
  \draw[flow] (p68-search) -- (knG) -| (p610-top);
  \draw[flow] (p68-sort) -- (p69-in);
  \draw[flow,shorten >=5pt] (p68-recipe) -- (bCofRec.west);
  \draw[flow,shorten >=5pt] (p68-all) -- (bCofDet.west);
  \draw[flowthick,shorten >=5pt] (p68-add) -- (bCofAdd.west);
  \draw[flow] (pc-dots) -- (knH) -| (co-top);
  \draw[flow,{Latex[length=3pt,width=3pt]}-{Latex[length=3pt,width=3pt]}] (pc-e) -- (pi-w);
  \draw[flow] (co-a) -- (cr-in);
  \draw[flow] (co-b) -| (fnDlg);

  % ---- notes ----
  \stickynote{nTop}{333}{52}{452}{83}{378}{408}{*6 - My Library (recommended proposal)\\[5pt]Replaces navigation tab bar in favour of a Roaster toolbar\\and launching roast flow via modal.}
  \stickynote{n60}{58}{266}{130}{320}{85}{103}{6.0 - library - recipes - empty - bluetooth disabled\\[5pt]Roaster Toolbar\\Toolbar animates in from the bottom of the screen.\\[5pt]The Roaster toolbar will persist on all library screens.}
  \stickynote{n63r}{680.6}{180}{738}{238}{702}{716}{6.3 - library - connected to roaster\\[5pt]Displays a small roaster icon on the recipe that is already on the machine. We can also change the colour of the recipe cell, just as Spotify does when a song is playing within a Playlist.}
  \stickynote{n63a}{557}{331}{638}{372}{587}{607}{6.3 - library - connected to roaster\\[5pt]When roaster is connected, the tool bar will show a summary of the previously roasted coffee or a default recipe for first use.}
  \stickynote{n63b}{556}{371}{636}{434}{586}{606}{6.3 - library - connected to roaster\\[5pt]First Use Coffee\\Same to use Ethiopia Dumerso for espresso (recommended/Espresso light ++). This coffee is in the starter kit that the user receives with the roaster, and the recipe is the Espresso recommended that appears in the Ethiopia Dumerso packaging.}
  \stickynote[noteg]{n612g}{1016}{199}{1076}{236}{1039}{1054}{6.12 - library - recipe - detail\\[5pt]Added coffee flavour component and timer about roast graph as per Roast Graph design updates.}
  \stickynote[noteg]{n612s}{1204}{328}{1287.5}{355}{1235}{1256}{6.12 - library - recipe - detail\\[5pt]Roast Stages\\'Cooling' stage added to Roast Stages}
  \stickynote{n612a}{1344}{224}{1434.5}{339}{1378}{1400}{6.12 - library - recipe - detail\\[5pt]Ikawa coffees will only have limited options available (ie 1x Espresso, 1x Filter) rather than 15 or 20 options.\\[5pt]For these coffees:\\[5pt]New User Subscribed or Legacy User\\When user hits Edit, guided edit will be disabled/hidden and instead presented with Advanced edit.\\[5pt]New User Not Subscribed\\When user hits Edit, they will be prompted with the Paywall before advancing to Advanced Edit.\\[5pt]For advanced Edit, see screen '8.1 - edit recipe - advanced edit' minus the 'Switch to Guided Edit' button.}
  \stickynote{n612b}{1345.5}{427}{1403.5}{468}{1367}{1381}{6.12 - library - coffee - recipe - detail\\[5pt]Send to Roaster\\Send to Roaster will pop the ready to roast screen with the new recipe loaded.}
  \stickynote{n6121}{1476.5}{94}{1536}{137}{1499}{1514}{6.12.1 - library - coffee - recipe - share\\[5pt]Share\\As per current app, a deep link will be shared via native share mechanisms.}
  \stickynote{n612c}{1612}{103}{1672}{147}{1634}{1649}{6.12 - library - recipe - detail\\[5pt]Push to coffee detail screen but only show Info tab (similar to screen 8.1 within add coffee flow but without the CTA button)}
  \stickynote{n6122}{1457}{620}{1524}{703}{1482}{1499}{6.12.2 - library - coffee - recipe - options\\[5pt]If Ikawa Coffee:\\- Cannot rename coffee name, hide option\\[5pt]If Other Coffee:\\- Can rename Coffee name, show option\\[5pt]Recipe Name:\\Recipe name can be changed for all coffees/recipes.}
  \stickynote{n6131}{1784}{212.7}{1844}{259}{1807}{1822}{6.13.1 - library - recipe onboarding\\[5pt]Recipe Onboarding\\This will also be automatically launched the first time a user enters a recipe details screen.}
  \stickynote{n64a}{259.4}{651.7}{315}{691.7}{280}{294}{6.4 - library - recipes\\[5pt]Switched emphasis to Recipe Name}
  \stickynote{n64b}{259.4}{710}{315}{748.7}{280}{294}{6.4 - library - recipes\\[5pt]Removed the Add Coffee floating action button for the recipes view to avoid confusion.}
  \stickynote{n64c}{164}{741.7}{236.6}{809.7}{191.6}{209}{6.4 - library - recipes\\[5pt]Legacy Recipes\\When user logs in to the new app for the first time, any legacy recipes the user has will automatically load into the new library.\\[5pt]If legacy recipe data is too different to new recipe data, we may need to display these recipes differently. TBD.}
  \stickynote{n66}{549}{741.7}{622}{780.7}{576}{594}{6.6 - library - recipes - search\\[5pt]Users can search via coffee or recipe name. Search from filters current view.}
  \stickynote{n67}{795.5}{620}{868}{658.7}{823}{841}{6.7 - library - recipes - swipe gestures\\[5pt]Removes recipe from library}
  \stickynote{nBoth}{85}{866}{157}{899}{113}{130.6}{6.4 - library - recipes\\6.8 - library - coffees\\[5pt]User can toggle the view to sort by Recipes or by Coffees.}
  \stickynote{n68l}{62}{1062.7}{134.6}{1106.7}{89}{107}{6.8 - library - coffees\\[5pt]Default View\\The Coffee view will be the main and default view. On first use, or fresh app launch the coffee view will be displayed first.}
  \stickynote{n68b}{158}{1156}{230}{1234.7}{185}{203}{6.8 - library - coffees\\[5pt]Coffees sorted by Last added or alphabetically.\\[5pt]Tap coffee name to expand/collapse recipes for that coffee.\\[5pt]Show a max of 3 recipes for each coffee.\\[5pt]Recipes will be sorted by last roasted.}
  \stickynote{n610}{549}{1151.7}{621.6}{1190.7}{576}{594}{6.10 - library - coffees - search\\[5pt]Users can search via coffee or recipe name. Search from filters current view.}
  \stickynote{n614}{1096}{1211.4}{1182}{1249.3}{1128.6}{1149.4}{6.14 - library - coffee - recipes\\[5pt]Combined Coffee Recipes and Info into one screen. This will remove an additional tap back to main library area.}
  \stickynote{n615}{1243}{1211.4}{1305}{1244}{1266.5}{1282}{6.15 - library - coffee - info\\[5pt]IF info not available we'll hide the corresponding properties (ie Flavour, Variety etc)}
  \stickynote[noteb]{nBlue}{1094}{1269.7}{1182}{1336}{1127}{1149.4}{6.14 - library - coffee - recipes\\6.15 - library - coffee - info\\[5pt]Where is the data source for coffees and recipes coming from?\\[5pt]When will this be ready?\\How do we translate Body's recipes to data?\\How did this work previously?\\Check with developers.}
  \stickynote{n614b}{1094}{1351}{1183}{1389}{1127}{1149.4}{6.14 - library - coffee - recipes\\[5pt]Recommended sessions.\\My recipes list will be an infinite list.}
  \stickynote{n617}{1500}{1134.5}{1568}{1194.8}{1526}{1543}{6.17 - library - coffee - options\\[5pt]If Ikawa Coffee:\\- Cannot rename coffee name, hide option\\[5pt]If Other Coffee:\\- Can rename Coffee name, show option}
\end{tikzpicture}
\end{document}
